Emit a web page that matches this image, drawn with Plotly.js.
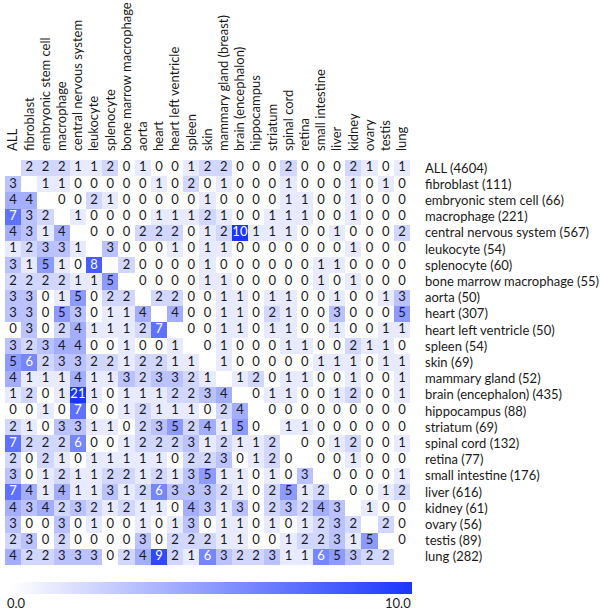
<!DOCTYPE html>
<html><head><meta charset="utf-8">
<script src="https://cdn.plot.ly/plotly-3.0.1.min.js"></script>
<style>html,body{margin:0;padding:0;background:#fff}#chart{width:600px;height:612px}</style>
</head><body><div id="chart"></div>
<script>
const colLabels = ["ALL","fibroblast","embryonic stem cell","macrophage","central nervous system","leukocyte","splenocyte","bone marrow macrophage","aorta","heart","heart left ventricle","spleen","skin","mammary gland (breast)","brain (encephalon)","hippocampus","striatum","spinal cord","retina","small intestine","liver","kidney","ovary","testis","lung"];
const rowLabels = ["ALL (4604)","fibroblast (111)","embryonic stem cell (66)","macrophage (221)","central nervous system (567)","leukocyte (54)","splenocyte (60)","bone marrow macrophage (55)","aorta (50)","heart (307)","heart left ventricle (50)","spleen (54)","skin (69)","mammary gland (52)","brain (encephalon) (435)","hippocampus (88)","striatum (69)","spinal cord (132)","retina (77)","small intestine (176)","liver (616)","kidney (61)","ovary (56)","testis (89)","lung (282)"];

const rowAll        = [null,2,2,2,1,1,2,0,1,0,0,1,2,2,0,0,0,2,0,0,0,2,1,0,1];
const rowFibroblast = [3,null,1,1,0,0,0,0,0,1,0,2,0,1,0,0,0,1,0,0,0,1,0,1,0];
const rowEmbryonic  = [4,4,null,0,0,2,1,0,0,0,0,0,1,0,0,0,0,1,1,0,0,1,0,0,0];
const rowMacrophage = [7,3,2,null,1,0,0,0,0,1,1,1,2,1,0,0,1,1,1,0,0,1,0,0,0];
const rowCNS        = [4,3,1,4,null,0,0,0,2,2,2,0,1,2,10,1,1,1,0,0,1,0,0,0,2];
const rowLeukocyte  = [1,2,3,3,1,null,3,0,0,0,1,0,1,1,0,0,0,0,0,0,0,1,0,0,0];
const rowSplenocyte = [3,1,5,1,0,8,null,2,0,0,0,0,1,0,0,0,0,0,0,1,1,0,0,0,0];
const rowBoneMarrow = [2,2,2,2,1,1,5,null,0,0,0,0,1,1,0,0,0,0,0,1,0,1,0,0,0];
const rowAorta      = [3,3,0,1,5,0,2,2,null,2,2,0,0,1,1,0,1,1,0,0,1,0,0,1,3];
const rowHeart      = [3,3,0,5,3,0,1,1,4,null,4,0,0,1,1,0,2,1,0,0,3,0,0,0,5];
const rowHeartLV    = [0,3,0,2,4,1,1,1,2,7,null,0,0,1,1,0,1,1,0,0,1,0,0,1,1];
const rowSpleen     = [3,2,3,4,4,0,0,1,0,0,1,null,0,1,0,0,0,1,1,0,0,2,1,1,0];
const rowSkin       = [5,6,2,3,3,2,2,1,2,2,1,1,null,1,0,0,0,0,0,1,1,1,0,1,1];
const rowMammary    = [4,1,1,1,4,1,1,3,2,3,3,2,1,null,1,2,0,1,1,0,0,1,0,0,1];
const rowBrain      = [1,2,0,1,21,1,0,1,1,1,2,2,3,4,null,0,1,1,0,0,1,2,0,0,1];
const rowHippocampus= [0,0,1,0,7,0,0,1,2,1,1,1,0,2,4,null,0,0,0,0,0,0,0,0,0];
const rowStriatum   = [2,1,0,3,3,1,1,0,2,3,5,2,4,1,5,0,null,1,1,0,0,0,0,0,0];
const rowSpinalCord = [7,2,2,2,6,0,0,1,2,2,2,3,1,2,1,1,2,null,0,0,1,2,0,0,1];
const rowRetina     = [2,0,2,1,0,1,1,1,1,1,0,2,2,3,0,1,2,0,null,0,0,1,0,0,0];
const rowSmallInt   = [3,0,1,2,1,1,2,2,1,2,1,3,5,1,1,0,1,0,3,null,0,0,0,0,1];
const rowLiver      = [7,4,1,4,1,1,3,1,2,6,3,3,3,2,1,0,2,5,1,2,null,0,0,1,2];
const rowKidney     = [4,3,4,2,3,2,1,2,1,1,0,4,3,1,3,0,2,3,2,4,3,null,1,0,0];
const rowOvary      = [3,0,0,3,0,1,0,0,1,0,1,3,0,1,1,0,1,0,1,2,3,2,null,2,0];
const rowTestis     = [2,3,0,2,0,0,0,0,3,0,2,2,2,1,1,0,0,1,2,2,3,1,5,null,0];
const rowLung       = [4,2,2,3,3,3,0,2,4,9,2,1,6,3,2,2,3,1,1,6,5,3,2,2,null];

const z = [rowAll,rowFibroblast,rowEmbryonic,rowMacrophage,rowCNS,rowLeukocyte,rowSplenocyte,rowBoneMarrow,rowAorta,rowHeart,rowHeartLV,rowSpleen,rowSkin,rowMammary,rowBrain,rowHippocampus,rowStriatum,rowSpinalCord,rowRetina,rowSmallInt,rowLiver,rowKidney,rowOvary,rowTestis,rowLung];

const idx = colLabels.map((_, i) => i);
const tx = [], ty = [], tt = [], tc = [];
z.forEach((row, r) => row.forEach((v, c) => {
  if (v === null) return;
  tx.push(c); ty.push(r); tt.push(String(v));
  tc.push(v >= 6 ? '#ffffff' : '#1a1a1a');
}));

const FONT = 'Lato, "Open Sans", sans-serif';
const data = [
  {type:'heatmap', x: idx, y: idx, z: z, zmin: 0, zmax: 10,
   colorscale: [[0,'#ffffff'],[1,'#1a35ff']], hoverongaps:false, xgap:0, ygap:0,
   colorbar: {orientation:'h', thickness:12, thicknessmode:'pixels', lenmode:'pixels', len:401,
     x:0.511, xanchor:'center', y:-0.042, yanchor:'top', outlinewidth:0, xpad:0, ypad:0,
     showticklabels:false, ticks:''}},
  {type:'scatter', mode:'text', x: tx, y: ty, text: tt,
   textfont:{family:FONT, size:13, color: tc}, hoverinfo:'skip', showlegend:false}
];
const layout = {
  width:600, height:612, margin:{l:5, r:190, t:160, b:47},
  paper_bgcolor:'#fff', plot_bgcolor:'#fff', showlegend:false,
  font:{family:FONT, size:13, color:'#1a1a1a'},
  xaxis:{side:'top', tickmode:'array', tickvals: idx, ticktext: colLabels, tickangle:-90,
    range:[-0.5,24.5], showgrid:false, zeroline:false, ticks:'', ticklabelstandoff:8,
    tickfont:{family:FONT, size:13, color:'#1a1a1a'}, fixedrange:true},
  yaxis:{side:'right', tickmode:'array', tickvals: idx, ticktext: rowLabels,
    range:[24.5,-0.5], showgrid:false, zeroline:false, ticks:'', ticklabelstandoff:14,
    tickfont:{family:FONT, size:13, color:'#1a1a1a'}, fixedrange:true},
  annotations:[
    {xref:'paper', yref:'paper', x:-0.001, y:-0.094, xanchor:'left', yanchor:'middle', text:'0.0', showarrow:false, font:{family:FONT, size:13, color:'#1a1a1a'}},
    {xref:'paper', yref:'paper', x:1.007, y:-0.094, xanchor:'right', yanchor:'middle', text:'10.0', showarrow:false, font:{family:FONT, size:13, color:'#1a1a1a'}}
  ]
};
Plotly.newPlot('chart', data, layout, {displayModeBar:false, staticPlot:true});
</script></body></html>
